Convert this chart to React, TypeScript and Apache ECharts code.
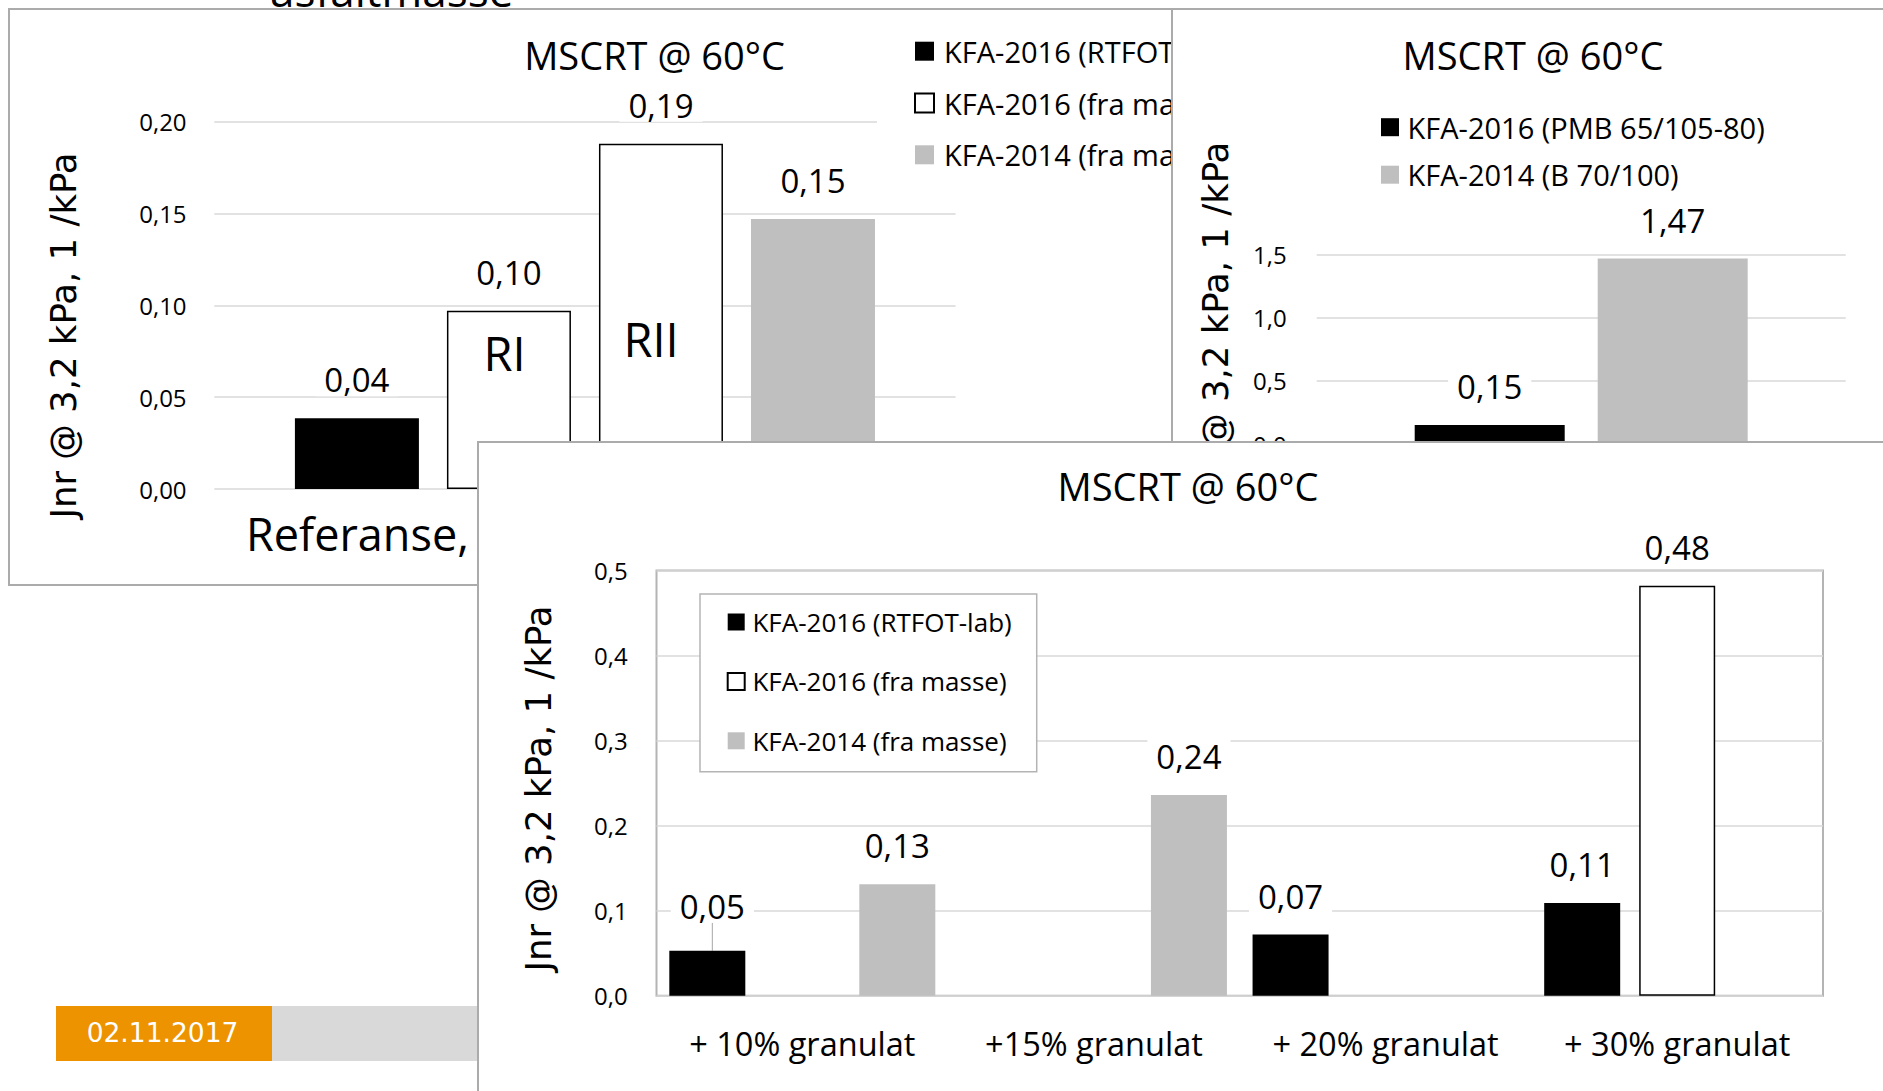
import React, { useEffect, useRef } from 'react';
import * as echarts from 'echarts';

const FONT = "'Open Sans', 'Noto Sans', sans-serif";
const NAME_FONT = "'DejaVu Sans', Verdana, sans-serif";

// ---------- shared texts ----------
const titleText = 'MSCRT @ 60°C';
const yAxisName = 'Jnr @ 3,2 kPa, 1 /kPa';
const slideTitleTail = 'asfaltmasse';
const dateText = '02.11.2017';

// ---------- panel 1 (top-left) ----------
const refCategories = ['Referanse, RI, RII'];
const refSeriesNames = ['KFA-2016 (RTFOT-lab)', 'KFA-2016 (fra masse)', 'KFA-2016 (fra masse)', 'KFA-2014 (fra masse)'];
const refValues = [0.0385, 0.097, 0.188, 0.147];
const refBarTags = ['RI', 'RII'];
const refAxis = { min: 0, max: 0.2, interval: 0.05 };

// ---------- panel 2 (top-right) ----------
const pmbCategories = ['Referanse'];
const pmbSeriesNames = ['KFA-2016 (PMB 65/105-80)', 'KFA-2014 (B 70/100)'];
const pmbValues = [0.151, 1.468];
const pmbAxis = { min: 0, max: 1.5, interval: 0.5 };

// ---------- panel 3 (bottom) ----------
const granCategories = ['+ 10% granulat', '+15% granulat', '+ 20% granulat', '+ 30% granulat'];
const granSeriesNames = ['KFA-2016 (RTFOT-lab)', 'KFA-2016 (fra masse)', 'KFA-2014 (fra masse)'];
const granRtfot = [0.053, null, 0.072, 0.109];
const granMasse2016 = [null, null, null, 0.482];
const granMasse2014 = [0.131, 0.236, null, null];
const granAxis = { min: 0, max: 0.5, interval: 0.1 };

// ---------- styles ----------
const BLACK = { color: '#000000' };
const WHITE = { color: '#ffffff', borderColor: '#000000', borderWidth: 1.5 };
const GRAY = { color: '#bfbfbf' };
const GRID_LINE = '#d9d9d9';
const PANEL_BORDER = '#ababab';

const comma = (d: number) => (v: any) => (typeof v === 'number' ? v.toFixed(d).replace('.', ',') : '');

const barLabel = {
  show: true,
  position: 'top',
  distance: 22,
  fontFamily: FONT,
  fontSize: 33,
  color: '#000',
  backgroundColor: '#ffffff',
  padding: [0, 9],
  formatter: (p: any) => comma(2)(p.value),
};

const centered = { align: 'center', verticalAlign: 'middle', textAlign: 'center', textVerticalAlign: 'middle' };

function titleGraphic(x: number, y: number) {
  return {
    type: 'text',
    x,
    y,
    z: 10,
    style: { text: titleText, fontFamily: FONT, fontSize: 38, fill: '#000', ...centered },
  };
}
function nameGraphic(x: number, y: number) {
  return {
    type: 'text',
    x,
    y,
    z: 10,
    rotation: Math.PI / 2,
    style: { text: yAxisName, fontFamily: NAME_FONT, fontSize: 35.5, fill: '#000', ...centered },
  };
}

function measure(text: string, font: string) {
  const ctx = document.createElement('canvas').getContext('2d');
  if (!ctx) return text.length * 20;
  ctx.font = font;
  return ctx.measureText(text).width;
}

const tickLabel = (margin: number, digits: number) => ({
  fontFamily: FONT,
  fontSize: 24,
  color: '#000',
  margin,
  padding: [0, 0, 4, 0],
  formatter: comma(digits),
});

function buildPanel1() {
  const grid = { left: 204.3, top: 111.7, width: 741.3, height: 367.3 };
  const catCenter = grid.left + grid.width / 2;
  const labelStart = 236;
  const w = measure(refCategories[0], `45px 'Open Sans'`);
  const padR = Math.max(0, 2 * (catCenter - labelStart) - w);
  const styles = [BLACK, WHITE, WHITE, GRAY];
  return {
    animation: false,
    backgroundColor: '#ffffff',
    graphic: [
      titleGraphic(644.6, 44.7),
      nameGraphic(53, 325.5),
      { type: 'text', x: 494.5, y: 343, z: 10, style: { text: refBarTags[0], fontFamily: FONT, fontSize: 47, fill: '#000', ...centered } },
      { type: 'text', x: 641, y: 329, z: 10, style: { text: refBarTags[1], fontFamily: FONT, fontSize: 47, fill: '#000', ...centered } },
    ],
    legend: {
      left: 867,
      top: 18.2,
      orient: 'vertical',
      padding: [8, 20, 8, 37],
      backgroundColor: '#ffffff',
      itemWidth: 19,
      itemHeight: 19,
      itemGap: 21.8,
      selectedMode: false,
      icon: 'rect',
      textStyle: { fontFamily: FONT, fontSize: 29, lineHeight: 30, color: '#000', padding: [0, 0, 0, 5] },
    },
    grid,
    xAxis: {
      type: 'category',
      data: refCategories,
      axisLine: { show: false },
      axisTick: { show: false },
      axisLabel: { fontFamily: FONT, fontSize: 45, lineHeight: 38, color: '#000', margin: 25, padding: [0, padR, 0, 0], interval: 0 },
    },
    yAxis: {
      type: 'value',
      ...refAxis,
      axisLine: { show: false },
      axisTick: { show: false },
      splitLine: { lineStyle: { color: GRID_LINE, width: 1.5 } },
      axisLabel: tickLabel(27.7, 2),
    },
    series: refValues.map((v, i) => ({
      type: 'bar',
      name: refSeriesNames[i],
      data: [v],
      barWidth: 124,
      barGap: '22.6%',
      itemStyle: styles[i],
      label: barLabel,
    })),
  };
}

function buildPanel2() {
  const styles = [BLACK, GRAY];
  return {
    animation: false,
    backgroundColor: '#ffffff',
    graphic: [titleGraphic(360, 45), nameGraphic(42, 314.7)],
    legend: {
      left: 208,
      top: 102.2,
      orient: 'vertical',
      padding: 0,
      itemWidth: 18,
      itemHeight: 18,
      itemGap: 17.5,
      selectedMode: false,
      icon: 'rect',
      textStyle: { fontFamily: FONT, fontSize: 29, lineHeight: 30, color: '#000', padding: [0, 0, 0, 3.5] },
    },
    grid: { left: 143.7, top: 244.5, width: 529, height: 189.5 },
    xAxis: {
      type: 'category',
      data: pmbCategories,
      axisLine: { show: false },
      axisTick: { show: false },
      axisLabel: { show: false },
    },
    yAxis: {
      type: 'value',
      ...pmbAxis,
      axisLine: { show: false },
      axisTick: { show: false },
      splitLine: { lineStyle: { color: GRID_LINE, width: 1.5 } },
      axisLabel: tickLabel(30, 1),
    },
    series: pmbValues.map((v, i) => ({
      type: 'bar',
      name: pmbSeriesNames[i],
      data: [v],
      barWidth: 150,
      barGap: '22%',
      itemStyle: styles[i],
      label: barLabel,
    })),
  };
}

function buildPanel3() {
  const common = { type: 'bar', barWidth: 76, barGap: '25%', label: barLabel };
  return {
    animation: false,
    backgroundColor: '#ffffff',
    graphic: [titleGraphic(709, 43), nameGraphic(59, 345.5)],
    legend: {
      left: 221,
      top: 151,
      orient: 'vertical',
      padding: [15, 25, 18, 26.7],
      backgroundColor: '#ffffff',
      borderColor: '#b4b4b4',
      borderWidth: 1.5,
      itemWidth: 17,
      itemHeight: 17,
      itemGap: 33.4,
      selectedMode: false,
      icon: 'rect',
      textStyle: { fontFamily: FONT, fontSize: 26, lineHeight: 26, color: '#000', padding: [0, 0, 0, 2.7] },
    },
    grid: { left: 177.5, top: 127.4, width: 1166.5, height: 425.4, show: true, borderColor: '#b4b4b4', borderWidth: 2, backgroundColor: 'transparent' },
    xAxis: {
      type: 'category',
      data: granCategories,
      axisLine: { show: false },
      axisTick: { show: false },
      axisLabel: { fontFamily: FONT, fontSize: 32.5, color: '#000', margin: 31.5, interval: 0 },
    },
    yAxis: {
      type: 'value',
      ...granAxis,
      axisLine: { show: false },
      axisTick: { show: false },
      splitLine: { lineStyle: { color: GRID_LINE, width: 1.5 } },
      axisLabel: tickLabel(28.8, 1),
    },
    series: [
      {
        ...common,
        name: granSeriesNames[0],
        itemStyle: BLACK,
        data: granRtfot.map((v, i) =>
          i === 0 ? { value: v, labelLine: { show: true, lineStyle: { color: '#a6a6a6', width: 1 } } } : v
        ),
        labelLayout: (p: any) => (p.dataIndex === 0 ? { dx: 5, dy: -6 } : {}),
      },
      { ...common, name: granSeriesNames[1], itemStyle: WHITE, data: granMasse2016 },
      { ...common, name: granSeriesNames[2], itemStyle: GRAY, data: granMasse2014 },
    ],
  };
}

function buildBackground() {
  return {
    animation: false,
    backgroundColor: '#ffffff',
    graphic: [
      { type: 'text', x: 391.7, y: -10, style: { text: slideTitleTail, fontFamily: FONT, fontSize: 44, fill: '#000', ...centered } },
      { type: 'rect', shape: { x: 56, y: 1006, width: 216, height: 55 }, style: { fill: '#ed9300' } },
      { type: 'rect', shape: { x: 272, y: 1006, width: 220, height: 55 }, style: { fill: '#d9d9d9' } },
      { type: 'text', x: 162.5, y: 1032, style: { text: dateText, fontFamily: NAME_FONT, fontSize: 26.5, fill: '#ffffff', ...centered } },
    ],
  };
}

function Chart({ build, width, height }: { build: () => any; width: number; height: number }) {
  const ref = useRef<HTMLDivElement>(null);
  useEffect(() => {
    if (!ref.current) return;
    const chart = echarts.init(ref.current, null, { renderer: 'svg' });
    chart.setOption(build());
    return () => chart.dispose();
  }, []);
  return <div ref={ref} style={{ width, height }} />;
}

function Panel({ x0, y0, width, height, z, build, border = true }: any) {
  const b = border ? 2 : 0;
  return (
    <div
      style={{
        position: 'absolute',
        left: x0 - b,
        top: y0 - b,
        border: border ? `2px solid ${PANEL_BORDER}` : 'none',
        background: '#ffffff',
        zIndex: z,
      }}
    >
      <Chart build={build} width={width} height={height} />
    </div>
  );
}

export default function App() {
  return (
    <div style={{ position: 'absolute', left: 0, top: 0, width: 1883, height: 1091, overflow: 'hidden', background: '#fff' }}>
      <Panel x0={0} y0={0} width={1883} height={1091} z={0} build={buildBackground} border={false} />
      <Panel x0={10} y0={10} width={1300} height={574} z={1} build={buildPanel1} />
      <Panel x0={1173} y0={10} width={760} height={600} z={2} build={buildPanel2} />
      <Panel x0={479} y0={443} width={1424} height={668} z={3} build={buildPanel3} />
    </div>
  );
}
